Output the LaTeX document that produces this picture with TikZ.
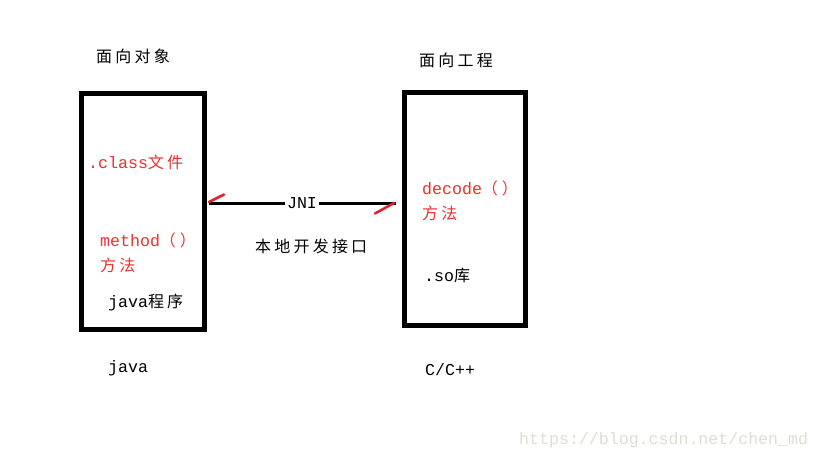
\documentclass[tikz,border=0pt]{standalone}
\usepackage{fontspec}
\setmainfont{Liberation Mono}
\newfontfamily\cjk[LetterSpace=20]{Noto Sans CJK SC}
\newcommand{\zh}[1]{{\fontsize{16}{18}\cjk #1}}
\newcommand{\parpair}{\zh{（\hspace{4pt}）}}
\definecolor{txtred}{RGB}{238,48,48}
\definecolor{strokered}{RGB}{230,30,40}
\definecolor{wm}{RGB}{222,222,214}
\begin{document}
\begin{tikzpicture}[x=1pt,y=-1pt,
  box/.style={draw=black,line width=5pt,minimum width=123pt,minimum height=236pt,inner sep=0pt},
  lbl/.style={anchor=west,inner sep=0pt,font=\fontsize{16.6}{18}\selectfont},
  redlbl/.style={lbl,text=txtred},
  conn/.style={line width=3pt,draw=black},
  tick/.style={line width=2.5pt,draw=strokered,line cap=round}]
\useasboundingbox (0,0) rectangle (819,460);
\fill[white] (0,0) rectangle (819,460);
% boxes
\node[box] (lbox) at (143,211.5) {};
\node[box,minimum width=121pt,minimum height=233pt] (rbox) at (464.5,209) {};
% titles
\node[lbl] (t1) at (96,56) {\zh{面向对象}};
\node[lbl] (t2) at (419,60) {\zh{面向工程}};
% left box contents
\node[redlbl] (cls) at (88,162) {.class\zh{文件}};
\node[redlbl] (meth) at (100,240) {method\parpair};
\node[redlbl] (fa1) at (100,265) {\zh{方法}};
\node[lbl] (jp) at (108,302) {java\zh{程序}};
% right box contents
\node[redlbl] (dec) at (422,188) {decode\parpair};
\node[redlbl] (fa2) at (422,213) {\zh{方法}};
\node[lbl] (so) at (424,275) {.so\zh{库}};
% JNI connector
\node[lbl,anchor=center,inner sep=2pt] (jni) at (302,203) {JNI};
\node[lbl] (bd) at (255,246) {\zh{本地开发接口}};
\draw[conn] (lbox.east |- jni.west) ++(2,0) -- (jni.west);
\draw[conn] (jni.east) -- ([xshift=-6pt]rbox.west |- jni.east);
\coordinate (r1a) at (209,202);
\coordinate (r1b) at (224,194.5);
\coordinate (r2a) at (375,213.5);
\coordinate (r2b) at (394,203);
\draw[tick] (r1a) -- (r1b);
\draw[tick] (r2a) -- (r2b);
% bottom labels
\node[lbl] (jv) at (108,368) {java};
\node[lbl] (cc) at (425,370) {C/C++};
\node[lbl,text=wm] (url) at (519,440) {https://blog.csdn.net/chen\_md};
\end{tikzpicture}
\end{document}
